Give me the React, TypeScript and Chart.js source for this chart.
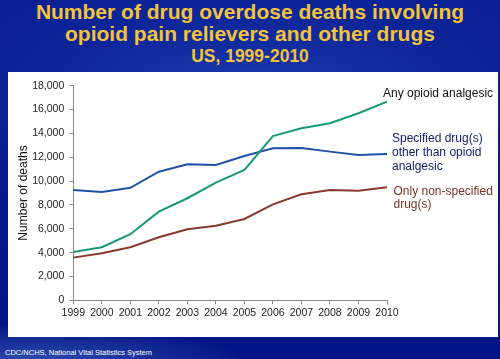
import React, { useEffect, useRef } from "react";
import { Chart, registerables } from "chart.js";

Chart.register(...registerables);

const years = ["1999", "2000", "2001", "2002", "2003", "2004", "2005", "2006", "2007", "2008", "2009", "2010"];
const anyOpioid = [4050, 4450, 5540, 7430, 8560, 9870, 10930, 13780, 14430, 14850, 15690, 16660];
const specifiedOther = [9250, 9080, 9440, 10790, 11410, 11350, 12100, 12750, 12780, 12470, 12190, 12270];
const nonSpecified = [3580, 3940, 4450, 5290, 5960, 6260, 6820, 8050, 8890, 9250, 9190, 9480];
const yTicks = [0, 2000, 4000, 6000, 8000, 10000, 12000, 14000, 16000, 18000];

const FONT = "'Liberation Sans', Arial, Helvetica, sans-serif";

const endLabels = {
  id: "endLabels",
  afterDraw(chart: any) {
    const { ctx, chartArea, scales } = chart;
    const y = scales.y;
    ctx.save();
    ctx.font = `12px ${FONT}`;
    ctx.textAlign = "left";
    ctx.textBaseline = "middle";
    const groups = [
      { color: "#111111", dx: -4, lines: [["Any opioid analgesic", 17360]] },
      {
        color: "#0f1d66",
        dx: 5,
        lines: [["Specified drug(s)", 13530], ["other than opioid", 12380], ["analgesic", 11210]],
      },
      { color: "#7a3426", dx: 6.5, lines: [["Only non-specified", 9110], ["drug(s)", 7990]] },
    ];
    for (const g of groups) {
      ctx.fillStyle = g.color;
      for (const [t, v] of g.lines as any) {
        ctx.fillText(t, chartArea.right + g.dx, y.getPixelForValue(v));
      }
    }
    ctx.restore();
  },
};

function App() {
  const ref = useRef<HTMLCanvasElement>(null);
  useEffect(() => {
    if (!ref.current) return;
    const axisColor = "#8a8a8a";
    const chart = new Chart(ref.current, {
      type: "line",
      data: {
        labels: years,
        datasets: [
          { label: "Any opioid analgesic", data: anyOpioid, borderColor: "#179a78", borderWidth: 2, pointRadius: 0, tension: 0 },
          { label: "Specified drug(s) other than opioid analgesic", data: specifiedOther, borderColor: "#2150a8", borderWidth: 2, pointRadius: 0, tension: 0 },
          { label: "Only non-specified drug(s)", data: nonSpecified, borderColor: "#8a3a2c", borderWidth: 2, pointRadius: 0, tension: 0 },
        ],
      },
      options: {
        responsive: false,
        animation: false,
        layout: { padding: { left: 0, right: 111, top: 13.7, bottom: 0 } },
        plugins: { legend: { display: false }, tooltip: { enabled: false }, title: { display: false } },
        scales: {
          x: {
            type: "category",
            offset: false,
            afterFit: (s: any) => { s.height = 36.7; },
            grid: { display: true, drawOnChartArea: false, offset: false, tickLength: 4, color: axisColor },
            border: { display: true, color: axisColor, width: 1 },
            ticks: { color: "#222", font: { family: FONT, size: 10.5 }, padding: 3, maxRotation: 0, autoSkip: false },
          },
          y: {
            min: 0,
            max: 18000,
            afterFit: (s: any) => { s.width = 65.3; },
            afterBuildTicks: (s: any) => { s.ticks = yTicks.map((v) => ({ value: v })); },
            grid: { display: true, drawOnChartArea: false, tickLength: 4, color: axisColor },
            border: { display: true, color: axisColor, width: 1 },
            ticks: {
              color: "#222",
              font: { family: FONT, size: 10.5 },
              padding: 5,
              callback: (v: any) => Number(v).toLocaleString("en-US"),
            },
            title: { display: true, text: "Number of deaths", color: "#111", font: { family: FONT, size: 12 }, padding: { top: 8, bottom: 0 } },
          },
        },
      },
      plugins: [endLabels],
    });
    return () => chart.destroy();
  }, []);

  return (
    <div
      style={{
        position: "fixed",
        left: 0,
        top: 0,
        width: 500,
        height: 359,
        overflow: "hidden",
        fontFamily: FONT,
        background:
          "radial-gradient(ellipse 220px 40px at 30px 365px, rgba(90,130,215,0.55), rgba(90,130,215,0) 100%), radial-gradient(ellipse 330px 120px at 50% 25%, #1a3aaa 0%, #10299c 50%, rgba(8,28,140,0) 100%), linear-gradient(180deg, #0a1f92 0%, #06198a 60%, #031586 100%)",
      }}
    >
      <div style={{ position: "absolute", left: 0, width: 500, top: 0.5, textAlign: "center", color: "#f3c33a", fontWeight: "bold", fontSize: 21, lineHeight: "21px", whiteSpace: "nowrap" }}>
        Number of drug overdose deaths involving
      </div>
      <div style={{ position: "absolute", left: 0, width: 500, top: 22.7, textAlign: "center", color: "#f3c33a", fontWeight: "bold", fontSize: 21, lineHeight: "21px", whiteSpace: "nowrap" }}>
        opioid pain relievers and other drugs
      </div>
      <div style={{ position: "absolute", left: 0, width: 500, top: 47.7, textAlign: "center", color: "#f3c33a", fontWeight: "bold", fontSize: 17.5, lineHeight: "17.5px", whiteSpace: "nowrap" }}>
        US, 1999-2010
      </div>
      <div style={{ position: "absolute", left: 8, top: 72, width: 490, height: 265, background: "#ffffff" }}>
        <canvas ref={ref} width={490} height={265} style={{ display: "block", width: 490, height: 265 }} />
      </div>
      <div style={{ position: "absolute", left: 5, top: 349.3, color: "#ffffff", fontSize: 7.5, lineHeight: "7.5px", whiteSpace: "nowrap" }}>
        CDC/NCHS, National Vital Statistics System
      </div>
    </div>
  );
}

export default App;
